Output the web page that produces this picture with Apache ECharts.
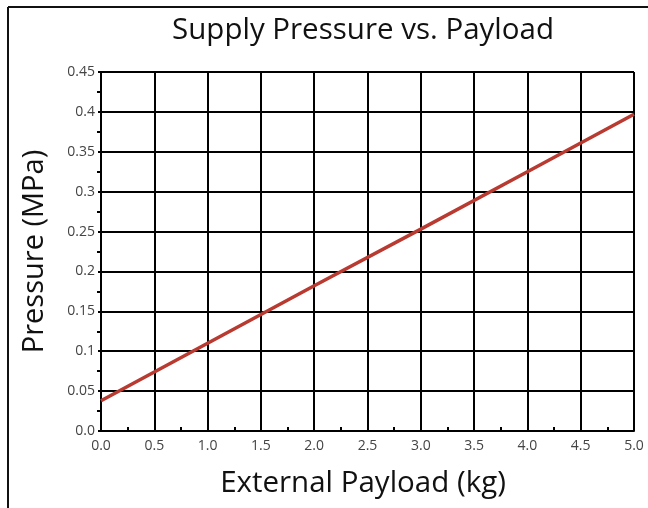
<!DOCTYPE html>
<html lang="en">
<head>
    <meta charset="UTF-8">
    <title>Supply Pressure vs. Payload</title>
    <style>
        html, body { margin: 0; padding: 0; background: #fff; }
        #main { width: 648px; height: 508px; }
    </style>
</head>
<body>
<div id="main"></div>
<script src="https://cdn.jsdelivr.net/npm/echarts@6/dist/echarts.min.js"></script>
<script>
    // values
    const payloadKg = [0, 1, 2, 3, 4, 5];
    const pressureMPa = [0.038, 0.110, 0.182, 0.253, 0.325, 0.397];

    const font = '"Open Sans", "Noto Sans", sans-serif';
    let myChart = echarts.init(document.getElementById('main'));

    let option = {
        animation: false,
        title: {
            text: 'Supply Pressure vs. Payload',
            left: 358, top: 11, textAlign: 'center',
            textStyle: { fontFamily: font, fontSize: 29.5, fontWeight: 'normal', color: '#111' }
        },
        graphic: [
            { type: 'line', shape: { x1: 8, y1: 7, x2: 648, y2: 7 }, style: { stroke: '#111', lineWidth: 2 } },
            { type: 'line', shape: { x1: 8, y1: 7, x2: 8, y2: 508 }, style: { stroke: '#111', lineWidth: 2 } }
        ],
        grid: { left: 101, right: 14, top: 72, bottom: 77 },
        xAxis: {
            type: 'value', min: 0, max: 5, interval: 0.5,
            name: 'External Payload (kg)', nameLocation: 'middle', nameGap: 38,
            nameTextStyle: { fontFamily: font, fontSize: 29.5, color: '#111', padding: [0, 9, 0, 0] },
            axisLine: { lineStyle: { color: '#000', width: 2 } },
            axisTick: { show: true, inside: true, length: 4, lineStyle: { color: '#000', width: 2 } },
            minorTick: { show: true, splitNumber: 2, length: 4, lineStyle: { color: '#000', width: 2 } },
            splitLine: { show: true, lineStyle: { color: '#000', width: 2 } },
            axisLabel: { fontFamily: font, fontSize: 14, color: '#444', margin: 8,
                formatter: v => v.toFixed(1) }
        },
        yAxis: {
            type: 'value', min: 0, max: 0.45, interval: 0.05,
            name: 'Pressure (MPa)', nameLocation: 'middle', nameGap: 52,
            nameTextStyle: { fontFamily: font, fontSize: 29, color: '#111' },
            axisLine: { show: true, lineStyle: { color: '#000', width: 2 } },
            axisTick: { show: true, length: 3, lineStyle: { color: '#000', width: 2 } },
            minorTick: { show: true, splitNumber: 2, length: 4, lineStyle: { color: '#000', width: 2 } },
            splitLine: { show: true, lineStyle: { color: '#000', width: 2 } },
            axisLabel: { fontFamily: font, fontSize: 14, color: '#444', margin: 6,
                formatter: v => v === 0 ? '0.0' : String(+v.toFixed(2)) }
        },
        series: [{
            type: 'line',
            data: payloadKg.map((x, i) => [x, pressureMPa[i]]),
            showSymbol: false,
            lineStyle: { color: '#b83a30', width: 3.5 }
        }]
    };
    myChart.setOption(option);
</script>
</body>
</html>
